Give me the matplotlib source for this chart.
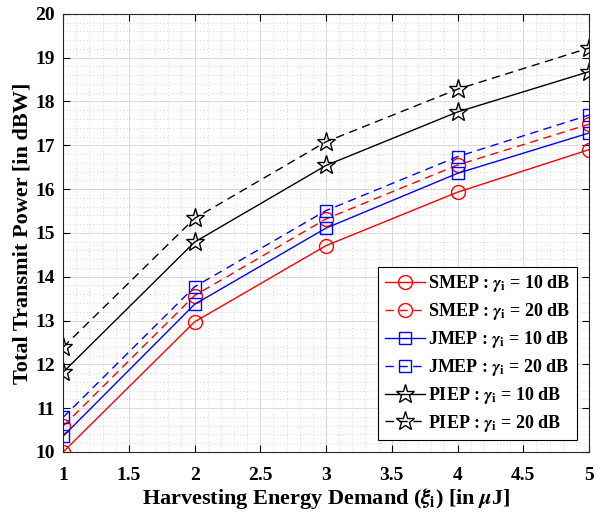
import numpy as np
import matplotlib.pyplot as plt
from matplotlib.ticker import MultipleLocator

plt.rcParams['font.family'] = ['Liberation Serif', 'DejaVu Serif']
plt.rcParams['font.weight'] = 'bold'
plt.rcParams['mathtext.fontset'] = 'stix'

# Données
demande = [1, 2, 3, 4, 5]
smep_10 = [10.00, 12.97, 14.71, 15.93, 16.90]
smep_20 = [10.59, 13.57, 15.32, 16.55, 17.48]
jmep_10 = [10.36, 13.37, 15.11, 16.36, 17.28]
jmep_20 = [10.79, 13.77, 15.51, 16.74, 17.69]
piep_10 = [11.82, 14.79, 16.54, 17.76, 18.68]
piep_20 = [12.39, 15.33, 17.08, 18.28, 19.22]

noms = ['SMEP', 'SMEP', 'JMEP', 'JMEP', 'PIEP', 'PIEP']
gammas = [10, 20, 10, 20, 10, 20]
series = [smep_10, smep_20, jmep_10, jmep_20, piep_10, piep_20]
couleurs = ['#ff0000', '#ff0000', '#0000ff', '#0000ff', 'black', 'black']
marqueurs = ['o', 'o', 's', 's', '*', '*']
styles = ['-', (0, (6, 4)), '-', (0, (6, 4)), '-', (0, (6, 4))]
tailles = [10, 10, 8, 8, 14, 14]

fig = plt.figure(figsize=(6.01, 5.13), dpi=100)
ax = fig.add_axes([0.105, 0.119, 0.875, 0.854])

for nom, g, y, c, m, ls, ms in zip(noms, gammas, series, couleurs, marqueurs, styles, tailles):
    ax.plot(demande, y, color=c, linestyle=ls, linewidth=1.0, marker=m,
            markersize=ms, markerfacecolor='none', markeredgecolor=c,
            markeredgewidth=1.0,
            label=nom + r' : $\gamma_\mathbf{i}$ = %d dB' % g)

ax.set_xlim(1, 5)
ax.set_ylim(10, 20)
ax.xaxis.set_major_locator(MultipleLocator(0.5))
ax.yaxis.set_major_locator(MultipleLocator(1))
ax.xaxis.set_minor_locator(MultipleLocator(0.1))
ax.yaxis.set_minor_locator(MultipleLocator(0.2))
ax.set_xticklabels([('%g' % v) for v in ax.get_xticks()])
ax.grid(which='major', color='#dcdcdc', linewidth=0.8)
ax.grid(which='minor', color='#c8c8c8', linestyle=(0, (1, 3)), linewidth=0.6)
ax.set_axisbelow(True)
ax.tick_params(which='major', direction='in', length=5, labelsize=14, width=0.8, top=True, right=True)
ax.tick_params(axis='x', pad=11)
ax.tick_params(axis='y', pad=6)
ax.tick_params(which='minor', length=0)
for s in ax.spines.values():
    s.set_linewidth(0.8)
    s.set_color('#262626')

ax.set_xlabel(r'Harvesting Energy Demand ($\xi_\mathbf{i}$) [in $\mu$J]', fontsize=16, fontweight='bold', labelpad=1)
ax.set_ylabel('Total Transmit Power [in dBW]', fontsize=16, fontweight='bold', labelpad=2)

leg = ax.legend(loc='lower right', bbox_to_anchor=(0.977, 0.027), fontsize=13,
                frameon=True, fancybox=False, edgecolor='black', framealpha=1,
                handlelength=2.2, handletextpad=0.2, labelspacing=0.38,
                borderpad=0.35, borderaxespad=0)
leg.get_frame().set_linewidth(0.8)

plt.savefig('out.png', dpi=100)
